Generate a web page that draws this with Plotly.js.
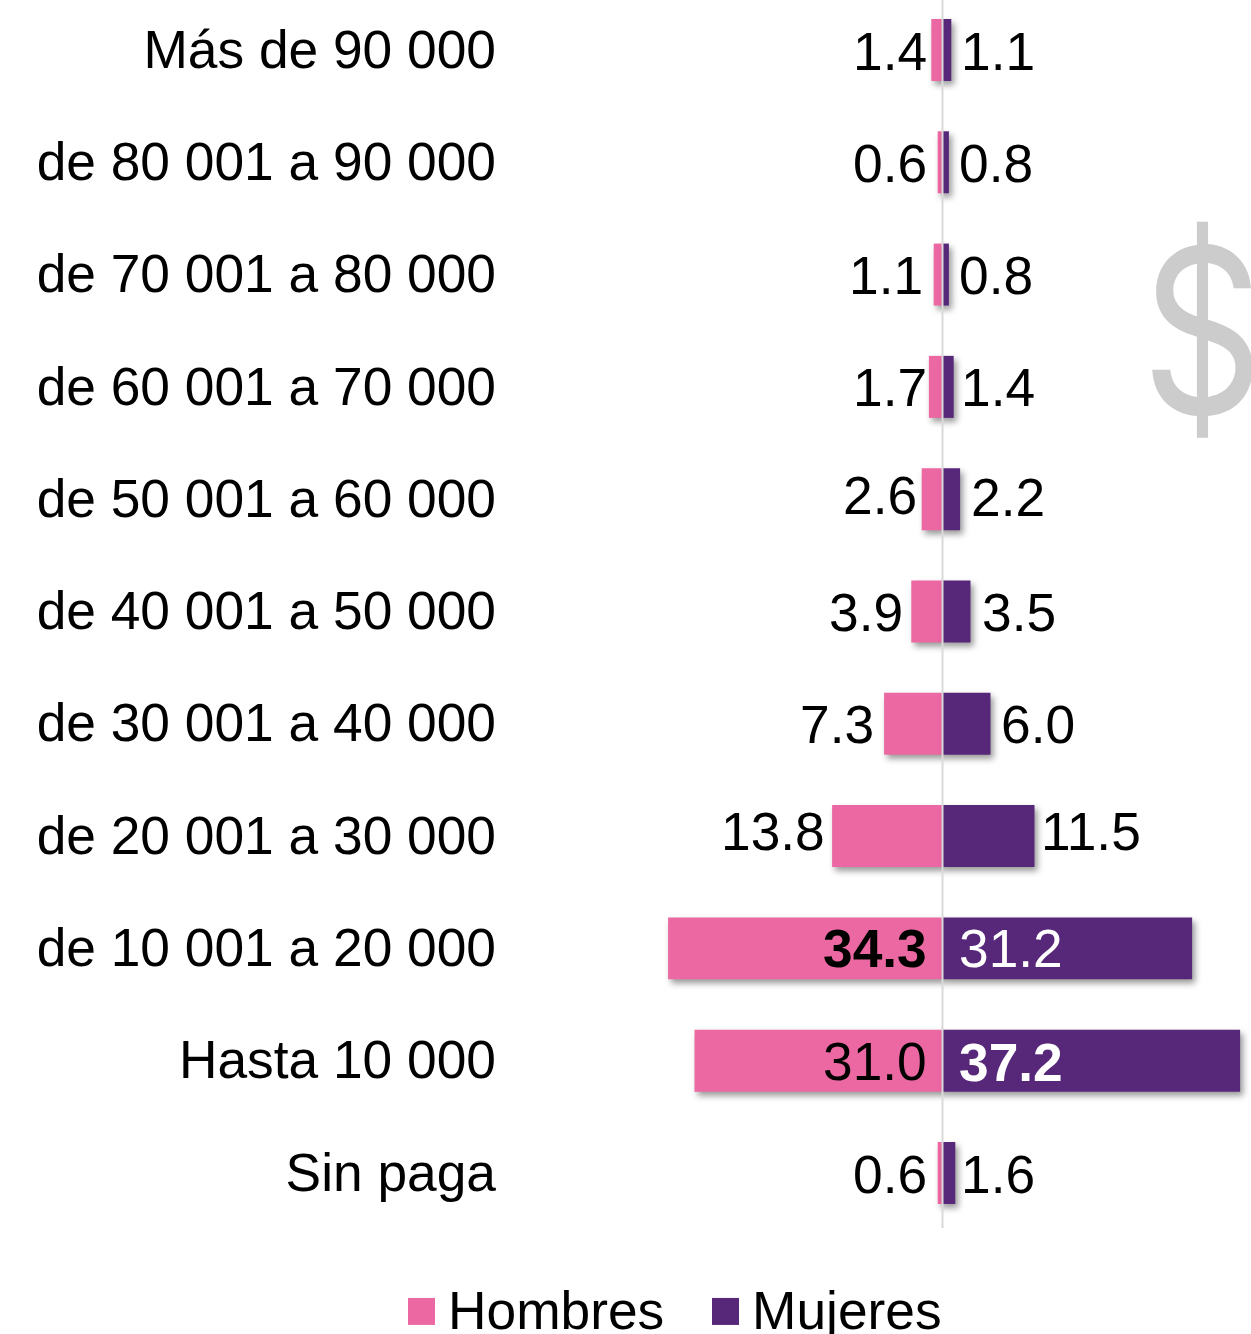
<!DOCTYPE html>
<html><head><meta charset="utf-8">
<script src="https://cdn.plot.ly/plotly-3.0.1.min.js"></script>
<style>html,body{margin:0;padding:0;background:#fff;overflow:hidden}</style>
</head><body><div id="chart" style="width:1251px;height:1334px"></div>
<script>
const categories = ["Sin paga","Hasta 10 000","de 10 001 a 20 000","de 20 001 a 30 000","de 30 001 a 40 000","de 40 001 a 50 000","de 50 001 a 60 000","de 60 001 a 70 000","de 70 001 a 80 000","de 80 001 a 90 000","Más de 90 000"];
const hombres = [0.6,31.0,34.3,13.8,7.3,3.9,2.6,1.7,1.1,0.6,1.4];
const mujeres = [1.6,37.2,31.2,11.5,6.0,3.5,2.2,1.4,0.8,0.8,1.1];
// label styling
const hombresBold = [false,false,true,false,false,false,false,false,false,false,false];
const mujeresBold = [false,true,false,false,false,false,false,false,false,false,false];
const mujeresWhite = [false,true,true,false,false,false,false,false,false,false,false];
const hombresLabelEnd = [-14,-14,-14,-116,-67,-38,-24,-14,-18,-14,-14];
const mujeresLabelStart = [16,14,14,96,56,37,26,16,14,14,16];
const hombresLabelDy = [2,1,0,-5,1,1,-4,1,1,1,2];
const mujeresLabelDy = [2,2,0,-5,1,1,-2,1,1,1,2];

const PINK="#EC68A2", PURPLE="#57277A", FS=53.3, FONT='"Liberation Sans",Arial,sans-serif';
const anns=[];
categories.forEach((c,i)=>{
  anns.push({xref:'x',yref:'y',x:0,y:i,xshift:hombresLabelEnd[i],yshift:-hombresLabelDy[i],xanchor:'right',yanchor:'middle',showarrow:false,
    text:hombresBold[i]?'<b>'+hombres[i].toFixed(1)+'</b>':hombres[i].toFixed(1),font:{family:FONT,size:FS,color:'#000'}});
  anns.push({xref:'x',yref:'y',x:0,y:i,xshift:mujeresLabelStart[i],yshift:-mujeresLabelDy[i],xanchor:'left',yanchor:'middle',showarrow:false,
    text:mujeresBold[i]?'<b>'+mujeres[i].toFixed(1)+'</b>':mujeres[i].toFixed(1),font:{family:FONT,size:FS,color:mujeresWhite[i]?'#fff':'#000'}});
});
anns.push({xref:'paper',yref:'paper',x:0.9348,y:0.732,xanchor:'center',yanchor:'middle',showarrow:false,text:'$',
  font:{family:'Inter,sans-serif',size:229,color:'#CCCCCC',style:'normal',weight:400}});

const data=[
 {type:'bar',orientation:'h',name:'Hombres',y:categories,x:hombres.map(v=>-v),marker:{color:PINK},hoverinfo:'skip'},
 {type:'bar',orientation:'h',name:'Mujeres',y:categories,x:mujeres,marker:{color:PURPLE},hoverinfo:'skip'}
];
const layout={
 width:1251,height:1334,paper_bgcolor:'#fff',plot_bgcolor:'rgba(0,0,0,0)',
 margin:{l:500,r:0,t:0,b:106,autoexpand:false},
 barmode:'overlay',bargap:0.448,
 font:{family:FONT,size:FS,color:'#000'},
 xaxis:{range:[-55.31,38.56],visible:false,fixedrange:true},
 yaxis:{type:'category',categoryorder:'array',categoryarray:categories,range:[-0.49,10.445],
   showgrid:false,zeroline:false,showline:false,ticks:'',tickfont:{family:FONT,size:FS,color:'#000'},ticklabelstandoff:3,automargin:false,fixedrange:true},
 shapes:[{type:'line',xref:'x',yref:'paper',x0:0,x1:0,y0:0,y1:1,line:{color:'#D9D9D9',width:2},layer:'above'}],
 annotations:anns,
 legend:{orientation:'h',x:-0.1225,xanchor:'left',y:-0.032,yanchor:'top',entrywidth:259,entrywidthmode:'pixels',font:{family:FONT,size:FS,color:'#000'},bgcolor:'rgba(0,0,0,0)',itemclick:false,itemdoubleclick:false}
};
Plotly.newPlot('chart',data,layout,{displayModeBar:false,staticPlot:true}).then(gd=>{
  gd.querySelectorAll('.bars .point path').forEach(p=>{p.style.filter='drop-shadow(3px 4px 3px rgba(0,0,0,0.4))';});
  gd.querySelectorAll('.legendpoints path').forEach(p=>{p.setAttribute('transform','translate(13.5,3) scale(2.25)');});
  gd.querySelectorAll('.ytick text').forEach(t=>{t.setAttribute('transform','translate(0,-1) '+(t.getAttribute('transform')||''));});
  gd.querySelectorAll('.annotation-text').forEach(t=>{
    if(t.textContent==='$'){const b=t.getBBox(),cx=b.x+b.width/2;t.setAttribute('transform','translate('+cx+',0) scale(0.83,1) translate('+(-cx)+',0)');}
  });
});
</script></body></html>
